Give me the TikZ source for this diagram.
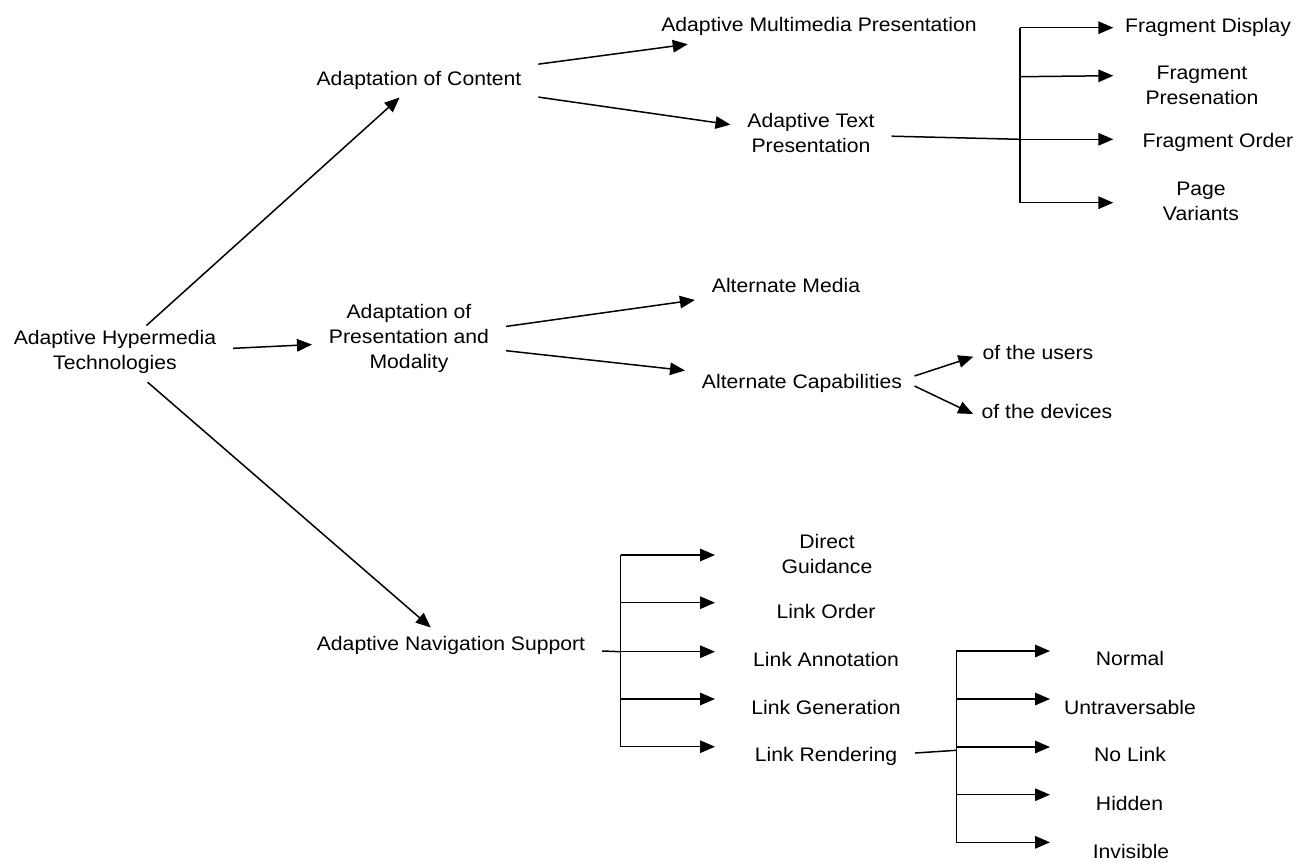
\documentclass[tikz,border=0pt]{standalone}
\usepackage{fontspec}
\setmainfont{Liberation Sans}[FakeStretch=1.08]
\usetikzlibrary{arrows.meta}
\begin{document}
\begin{tikzpicture}[x=1pt,y=-1pt,
  lbl/.style={font=\fontsize{19.6}{25}\selectfont, inner sep=0pt,
    outer xsep=17pt, outer ysep=5pt, align=center,
    execute at begin node=\strut, execute at end node=\strut},
  arr/.style={line width=1.5pt, line join=miter,
    -{Triangle[length=15pt,width=12.5pt]}},
  ln/.style={line width=1.5pt}]
\useasboundingbox[fill=white] (0,0) rectangle (1313,862);

% ---- labels ----
\node[lbl] (hyper)   at (115,353.9) {Adaptive Hypermedia\\Technologies};
\node[lbl] (content) at (419,80)    {Adaptation of Content};
\node[lbl] (multi)   at (819,26.7)  {Adaptive Multimedia Presentation};
\node[lbl] (text)    at (811,136.2) {Adaptive Text\\Presentation};
\node[lbl] (pres)    at (409,340)   {Adaptation of\\Presentation and\\Modality};
\node[lbl] (media)   at (786,287.3) {Alternate Media};
\node[lbl] (cap)     at (802,383.3) {Alternate Capabilities};
\node[lbl] (users)   at (1038,354)  {of the users};
\node[lbl] (devices) at (1047,413.3) {of the devices};
\node[lbl] (nav)     at (451,645)   {Adaptive Navigation Support};

\node[lbl] (fd) at (1208,27.3)  {Fragment Display};
\node[lbl] (fp) at (1202,88.9)  {Fragment\\Presenation};
\node[lbl] (fo) at (1218,142.7) {Fragment Order};
\node[lbl] (pv) at (1201,204.7) {Page\\Variants};

\node[lbl] (dg) at (827,557.5) {Direct\\Guidance};
\node[lbl] (lo) at (826,613.3) {Link Order};
\node[lbl] (la) at (826,661)   {Link Annotation};
\node[lbl] (lg) at (826,709)   {Link Generation};
\node[lbl] (lr) at (826,756.7) {Link Rendering};

\node[lbl] (nm) at (1130,660.7)  {Normal};
\node[lbl] (un) at (1130,709)    {Untraversable};
\node[lbl] (nl) at (1130,756.7)  {No Link};
\node[lbl] (hd) at (1129.5,805)  {Hidden};
\node[lbl] (iv) at (1131,853.3)  {Invisible};

% ---- direct connectors ----
\draw[arr] (hyper) -- (content);
\draw[arr] (hyper) -- (pres);
\draw[arr] (hyper) -- (nav);
\draw[arr] (content) -- (multi);
\draw[arr] (content) -- (text);
\draw[arr] (pres) -- (media);
\draw[arr] (pres) -- (cap);
\draw[arr] ([xshift=-4.5pt,yshift=7.3pt]cap.east) -- ([xshift=7.6pt,yshift=-2.7pt]users.west);
\draw[arr] ([xshift=-4.5pt,yshift=-2.7pt]cap.east) -- ([xshift=8.4pt,yshift=-0.7pt]devices.west);

% ---- fragment bracket ----
\coordinate (jf)  at (1020,139.3);
\coordinate (f1)  at (1020,27.7);
\coordinate (f2)  at (1020,76.7);
\coordinate (f4)  at (1020,202.7);
\coordinate (ftip) at (1113.3,0);
\draw[ln] (text.east) -- (jf);
\draw[ln] (f1) -- (f4);
\draw[arr] (f1) -- (f1 -| ftip);
\draw[arr] (f2) -- ([yshift=1pt]f2 -| ftip);
\draw[arr] (jf) -- (jf -| ftip);
\draw[arr] (f4) -- (f4 -| ftip);

% ---- navigation bracket ----
\coordinate (jn) at (620.7,651.7);
\coordinate (n1) at (620.7,555);
\coordinate (n2) at (620.7,602.7);
\coordinate (n4) at (620.7,699);
\coordinate (n5) at (620.7,746.7);
\coordinate (ntip) at (715,0);
\draw[ln] ([yshift=-6pt]nav.east) -- (jn);
\draw[ln] (n1) -- (n5);
\foreach \c in {n1,n2,jn,n4,n5}
  \draw[arr] (\c) -- (\c -| ntip);

% ---- rendering bracket ----
\coordinate (jr) at (956.3,750.3);
\coordinate (r1) at (956.3,651);
\coordinate (r2) at (956.3,699);
\coordinate (r3) at (956.3,747);
\coordinate (r4) at (956.3,794.7);
\coordinate (r5) at (956.3,842.3);
\coordinate (rtip) at (1050,0);
\draw[ln] ([xshift=1pt,yshift=3.7pt]lr.east) -- (jr);
\draw[ln] (r1) -- (r5);
\foreach \c in {r1,r2,r3,r4,r5}
  \draw[arr] (\c) -- (\c -| rtip);
\end{tikzpicture}
\end{document}
